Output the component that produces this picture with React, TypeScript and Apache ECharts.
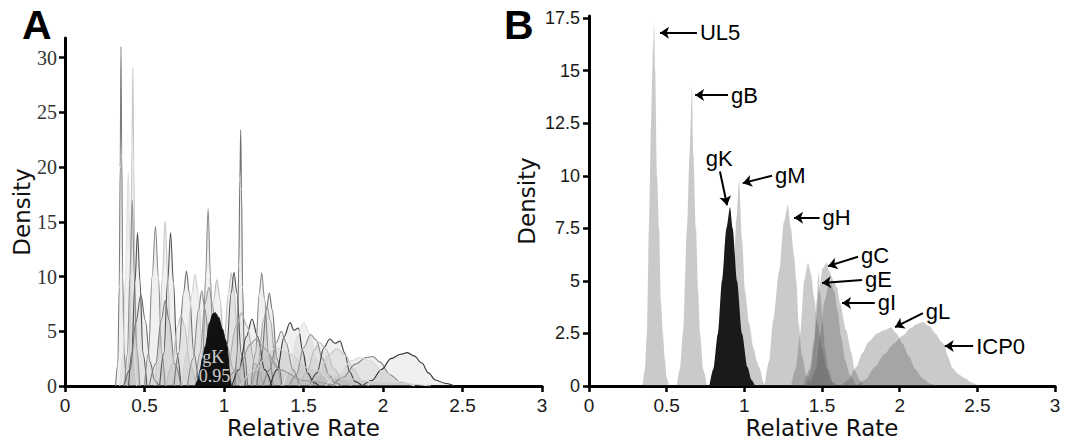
import React, { useEffect, useRef } from "react";
import * as echarts from "echarts";

type Pt = [number, number];

// ---------- shared ticks ----------
const xTicks = [0, 0.5, 1, 1.5, 2, 2.5, 3];
const aYTicks = [0, 5, 10, 15, 20, 25, 30];
const bYTicks = [0, 2.5, 5, 7.5, 10, 12.5, 15, 17.5];

// ---------- panel A: posterior densities of relative rates ----------
const aCurves: Pt[][] = [
  [[0.318,0],[0.332,2],[0.341,9],[0.347,20],[0.352,31],[0.357,21],[0.363,10],[0.372,3],[0.385,0.6],[0.4,0]],
  [[0.39,0],[0.403,2.5],[0.413,10],[0.421,22],[0.427,29.1],[0.433,20],[0.441,9],[0.452,2.5],[0.47,0]],
  [[0.345,0],[0.365,3],[0.38,10],[0.398,19.5],[0.41,12],[0.425,4],[0.45,0]],
  [[0.375,0],[0.393,3],[0.408,10],[0.423,17],[0.436,10],[0.45,3.5],[0.47,0]],
  [[0.4,0],[0.42,3],[0.44,9.5],[0.456,14],[0.472,9.5],[0.49,3],[0.515,0]],
  [[0.37,0],[0.41,1.5],[0.445,5.8],[0.477,8.3],[0.505,6],[0.535,2.2],[0.565,0.5],[0.59,0]],
  [[0.5,0],[0.525,3],[0.548,10],[0.569,14.6],[0.587,10],[0.608,3],[0.63,0]],
  [[0.565,0],[0.59,3],[0.612,10],[0.63,15.1],[0.647,10],[0.665,3.5],[0.69,0]],
  [[0.595,0],[0.622,3],[0.645,9.5],[0.664,14],[0.682,9.5],[0.703,3],[0.73,0]],
  [[0.53,0],[0.57,2],[0.605,6],[0.63,7.8],[0.655,6],[0.69,2],[0.73,0]],
  [[0.685,0],[0.715,3],[0.745,8.5],[0.764,10.5],[0.782,8.5],[0.81,3],[0.84,0]],
  [[0.735,0],[0.765,3],[0.798,8.5],[0.818,10.2],[0.838,8.5],[0.865,3],[0.895,0]],
  [[0.85,0],[0.868,3],[0.884,10],[0.9,16.2],[0.915,10],[0.93,3],[0.95,0]],
  [[0.82,0],[0.85,3],[0.88,7.5],[0.905,9],[0.927,7.5],[0.955,3],[0.985,0]],
  [[0.87,0],[0.9,3],[0.935,8],[0.955,9.7],[0.975,8],[1.0,3],[1.03,0]],
  [[0.965,0],[0.995,3],[1.028,8.5],[1.046,10.35],[1.064,8.5],[1.09,3],[1.12,0]],
  [[0.985,0],[1.015,3],[1.045,8.5],[1.063,10.4],[1.081,8.5],[1.108,3],[1.135,0]],
  [[1.068,0],[1.083,3],[1.093,11],[1.1,19],[1.105,23.4],[1.11,18],[1.117,9],[1.128,3],[1.148,0]],
  [[1.05,0],[1.095,1.5],[1.14,4.5],[1.176,6.1],[1.212,4.5],[1.255,1.5],[1.3,0]],
  [[1.17,0],[1.198,3],[1.222,8.5],[1.237,10.35],[1.255,8],[1.28,3],[1.31,0]],
  [[1.205,0],[1.235,2.5],[1.267,7],[1.285,8.5],[1.303,7],[1.333,2.5],[1.365,0]],
  [[1.175,0],[1.215,2],[1.248,6],[1.27,7.3],[1.292,6],[1.325,2],[1.36,0]],
  [[1.29,0],[1.335,1.5],[1.378,4.5],[1.415,5.8],[1.44,5.1],[1.468,5.3],[1.495,3.2],[1.525,1.2],[1.565,0.3],[1.6,0]],
  [[1.37,0],[1.415,1.5],[1.46,4.5],[1.5,5.8],[1.54,4.8],[1.58,2.6],[1.625,1],[1.67,0.3],[1.72,0]],
  [[1.41,0],[1.455,1],[1.5,3.5],[1.545,4.7],[1.58,4.2],[1.62,2.5],[1.66,1],[1.7,0.3],[1.74,0]],
  [[1.54,0],[1.585,1.2],[1.628,3.5],[1.665,4.3],[1.698,3.9],[1.73,4.1],[1.76,3],[1.79,1.3],[1.825,0.4],[1.87,0]],
  [[1.54,0],[1.595,1],[1.655,2.8],[1.71,3.4],[1.765,2.8],[1.815,1.5],[1.865,0.5],[1.91,0]],
  [[1.68,0],[1.75,0.8],[1.825,2.0],[1.895,2.6],[1.936,2.7],[1.98,2.2],[2.045,1.0],[2.115,0.3],[2.2,0]],
  [[1.87,0],[1.93,0.5],[1.99,1.5],[2.05,2.5],[2.11,2.9],[2.153,3.05],[2.195,2.75],[2.245,2.1],[2.285,1.2],[2.33,0.55],[2.39,0.25],[2.45,0]],
  [[0.97,0],[1.025,2],[1.077,5.5],[1.11,6.7],[1.143,5.5],[1.195,2],[1.25,0]],
  [[1.245,0],[1.288,1.5],[1.33,4],[1.36,5],[1.39,4],[1.432,1.5],[1.475,0]],
  [[0.845,0],[0.9,1.5],[0.948,4],[0.98,5],[1.012,4],[1.06,1.5],[1.115,0]],
  [[0.635,0],[0.675,2],[0.708,5.5],[0.73,6.5],[0.752,5.5],[0.785,2],[0.825,0]],
  [[0.99,0],[1.09,1.5],[1.165,3.8],[1.2,4.3],[1.25,3.5],[1.35,1.5],[1.5,0.5],[1.7,0]],
  [[1.1,0],[1.2,1.5],[1.28,3],[1.33,3.5],[1.4,3],[1.55,1.5],[1.75,0.7],[2.0,0.3],[2.3,0]],
  [[1.64,0],[1.72,1],[1.8,2.3],[1.85,2.6],[1.92,2.3],[2.0,1.3],[2.1,0.4],[2.2,0]],
  [[0.77,0],[0.805,2.5],[0.84,7],[0.86,8.7],[0.88,7],[0.915,2.5],[0.95,0]],
  [[1.47,0],[1.52,1.2],[1.57,3.3],[1.6,4.0],[1.64,3.4],[1.69,1.6],[1.75,0.5],[1.8,0]],
];
const aStroke: string[] = [
  "#7c7c7c","#c8c8c8","#dedede","#909090","#505050","#6a6a6a","#8a8a8a","#c8c8c8",
  "#505050","#7a7a7a","#707070","#d0d0d0","#8a8a8a","#9a9a9a","#b8b8b8","#c0c0c0",
  "#555555","#707070","#333333","#8a8a8a","#707070","#a0a0a0","#333333","#e0e0e0",
  "#8a8a8a","#444444","#c8c8c8","#808080","#333333","#aaaaaa","#888888","#aaaaaa",
  "#c0c0c0","#999999","#d0d0d0","#d8d8d8","#888888","#bbbbbb",
];
const gkA: Pt[] = [[0.82,0],[0.835,0.5],[0.85,1.46],[0.865,2.5],[0.882,3.6],[0.91,5.8],[0.93,6.6],[0.945,6.7],[0.965,6.3],[0.99,5.2],[1.01,4.2],[1.02,3.6],[1.028,2.5],[1.033,1.46],[1.04,0.5],[1.045,0]];
const gkALabels = [
  { name: "gK", value: [0.933, 2.65] as Pt },
  { name: "0.95", value: [0.94, 0.9] as Pt },
];

// ---------- panel B: selected genes ----------
const bUL5: Pt[] = [[0.345,0],[0.36,0.8],[0.373,2.5],[0.386,7.5],[0.4,12.5],[0.412,16],[0.419,17.26],[0.426,15],[0.438,10],[0.451,7.5],[0.463,4],[0.476,2.5],[0.488,1.3],[0.5,0.4],[0.515,0]];
const bGB: Pt[] = [[0.565,0],[0.585,0.8],[0.605,2.5],[0.631,7.5],[0.648,11],[0.663,14.2],[0.672,11],[0.689,7.5],[0.703,4.5],[0.715,2.5],[0.735,0.8],[0.76,0]];
const bGM: Pt[] = [[0.85,0],[0.89,1.5],[0.925,4.5],[0.95,8],[0.966,9.8],[0.985,7],[1.005,4.5],[1.03,3],[1.06,1.8],[1.08,1.2],[1.095,0.9],[1.105,0.7],[1.12,0.2],[1.135,0]];
const bGH: Pt[] = [[1.13,0],[1.16,1.2],[1.185,3.1],[1.225,5.5],[1.255,7.8],[1.28,8.6],[1.3,7.5],[1.32,6.2],[1.335,5],[1.35,3],[1.37,1.5],[1.4,0.5],[1.43,0]];
const bGD: Pt[] = [[1.3,0],[1.33,0.8],[1.36,2.5],[1.385,5],[1.41,5.85],[1.43,5.3],[1.45,4.2],[1.47,3],[1.5,1.8],[1.53,0.8],[1.56,0.2],[1.58,0]];
const bGE: Pt[] = [[1.4,0],[1.43,0.8],[1.45,2],[1.465,4],[1.478,5.4],[1.49,4.3],[1.505,3],[1.52,1.8],[1.54,0.8],[1.57,0.2],[1.6,0]];
const bGC: Pt[] = [[1.38,0],[1.42,0.8],[1.45,2.2],[1.48,4.5],[1.505,5.6],[1.53,5.85],[1.55,5.4],[1.575,5.0],[1.597,4.7],[1.616,3.95],[1.655,2.66],[1.69,1.57],[1.71,0.76],[1.74,0.3],[1.77,0]];
const bGI: Pt[] = [[1.42,0],[1.46,0.8],[1.49,2.5],[1.515,4.0],[1.54,4.7],[1.56,4.85],[1.58,4.5],[1.6,3.6],[1.625,2.3],[1.65,1.2],[1.68,0.5],[1.72,0]];
const bGL: Pt[] = [[1.62,0],[1.67,0.3],[1.72,0.9],[1.76,1.57],[1.8,2.1],[1.855,2.5],[1.9,2.65],[1.945,2.78],[1.98,2.5],[2.02,2.0],[2.06,1.4],[2.1,0.8],[2.15,0.35],[2.2,0.1],[2.25,0]];
const bICP0: Pt[] = [[1.72,0],[1.78,0.3],[1.84,0.9],[1.9,1.5],[1.96,2.0],[2.02,2.4],[2.07,2.75],[2.11,2.95],[2.15,3.05],[2.19,2.85],[2.23,2.5],[2.27,2.1],[2.29,1.9],[2.31,1.4],[2.34,0.85],[2.38,0.55],[2.42,0.38],[2.46,0.18],[2.5,0.05],[2.53,0]];
const bGK: Pt[] = [[0.775,0],[0.8,0.8],[0.83,2.5],[0.856,5],[0.885,7.5],[0.908,8.5],[0.925,7.5],[0.953,5],[0.985,2.5],[1.02,0.9],[1.045,0.3],[1.07,0]];
const bGray: Pt[][] = [bUL5, bGB, bGM, bGH, bGD, bGE, bGC, bGI, bGL, bICP0];

// annotations: label, arrow start (label side), arrow tip
const bArrowLabels = ["UL5", "gB", "gK", "gM", "gH", "gC", "gE", "gI", "gL", "ICP0"];
const bArrowFrom: Pt[] = [[0.695,16.8],[0.895,13.84],[0.843,10.2],[1.178,10.0],[1.484,8.0],[1.732,6.15],[1.758,5.04],[1.84,3.95],[2.15,3.47],[2.473,1.9]];
const bArrowTo: Pt[] = [[0.457,16.8],[0.683,13.84],[0.889,8.6],[0.99,9.65],[1.32,8.0],[1.539,5.7],[1.5,4.9],[1.629,3.95],[1.97,2.8],[2.29,1.9]];

export default function App() {
  const ref = useRef<HTMLDivElement>(null);
  useEffect(() => {
    document.body.style.margin = "0";
    const chart = echarts.init(ref.current!, null, { renderer: "svg" });
    const sans = "'Liberation Sans', Arial, Helvetica, sans-serif";
    const nameFont = "'DejaVu Sans', 'Liberation Sans', sans-serif";
    const serif = "'Liberation Serif', 'Times New Roman', serif";
    const axisLine = { show: true, onZero: false, lineStyle: { color: "#000", width: 3 } };
    const tick = (vals: number[]) => ({
      show: true, inside: false, length: 6, customValues: vals,
      lineStyle: { color: "#000", width: 2.5 },
    });
    const xAxisBase = (gi: number) => ({
      type: "value", gridIndex: gi, min: 0, max: 3, interval: 0.5,
      axisLine, axisTick: tick(xTicks), splitLine: { show: false },
      axisLabel: { customValues: xTicks, fontFamily: sans, fontSize: 19, color: "#1a1a1a", margin: 10, formatter: (v: number) => String(v) },
      name: "Relative Rate", nameLocation: "middle", nameGap: 30, nameMoveOverlap: false,
      nameTextStyle: { fontFamily: nameFont, fontSize: 23, color: "#111", verticalAlign: "top", padding: 0 },
    });

    const series: any[] = [];
    aCurves.forEach((c, i) => {
      series.push({
        type: "line", xAxisIndex: 0, yAxisIndex: 0, data: c, symbol: "none", showSymbol: false,
        smooth: 0.35, smoothMonotone: "x", silent: true, z: 2,
        lineStyle: { color: aStroke[i % aStroke.length], width: 1.1 },
        areaStyle: { color: "rgba(150,150,150,0.2)" },
      });
    });
    series.push({
      type: "line", xAxisIndex: 0, yAxisIndex: 0, data: gkA, symbol: "none", smooth: 0.3, smoothMonotone: "x",
      silent: true, z: 3, lineStyle: { color: "#111", width: 1 }, areaStyle: { color: "#111", opacity: 1 },
    });
    series.push({
      type: "scatter", xAxisIndex: 0, yAxisIndex: 0, data: gkALabels, symbolSize: 0, silent: true, z: 4,
      label: { show: true, position: "inside", formatter: "{b}", fontFamily: serif, fontSize: 18, color: "#fff" },
    });

    bGray.forEach((c) => {
      series.push({
        type: "line", xAxisIndex: 1, yAxisIndex: 1, data: c, symbol: "none", smooth: 0.25, smoothMonotone: "x",
        silent: true, z: 2, lineStyle: { width: 0, opacity: 0 },
        areaStyle: { color: "rgba(80,80,80,0.43)" },
      });
    });
    series.push({
      type: "line", xAxisIndex: 1, yAxisIndex: 1, data: bGK, symbol: "none", smooth: 0.25, smoothMonotone: "x",
      silent: true, z: 3, lineStyle: { width: 0, opacity: 0 }, areaStyle: { color: "#1a1a1a", opacity: 1 },
    });
    series.push({
      type: "line", xAxisIndex: 1, yAxisIndex: 1, data: bArrowTo, symbol: "none", silent: true, z: 10,
      lineStyle: { width: 0, opacity: 0 },
      markLine: {
        silent: true, symbol: ["none", "arrow"], symbolSize: 9, precision: 4,
        lineStyle: { color: "#000", width: 2, type: "solid" },
        label: { show: true, position: "start", formatter: "{b}", fontFamily: sans, fontSize: 22, lineHeight: 20, color: "#000", distance: 3 },
        emphasis: { disabled: true },
        data: bArrowLabels.map((n, i) => [
          { name: n, coord: bArrowFrom[i] },
          { coord: bArrowTo[i] },
        ]),
      },
    });

    chart.setOption({
      animation: false,
      backgroundColor: "#fff",
      grid: [
        { left: 65, top: 38, right: 531, bottom: 55, containLabel: false, outerBoundsMode: "none" },
        { left: 589, top: 16, right: 18, bottom: 55, containLabel: false, outerBoundsMode: "none" },
      ],
      xAxis: [xAxisBase(0), xAxisBase(1)],
      yAxis: [
        {
          type: "value", gridIndex: 0, min: 0, max: 31.8, axisLine, axisTick: tick(aYTicks),
          splitLine: { show: false },
          axisLabel: { customValues: aYTicks, fontFamily: serif, fontSize: 20, color: "#333", margin: 8 },
          name: "Density", nameLocation: "middle", nameGap: 32,
          nameTextStyle: { fontFamily: nameFont, fontSize: 23, color: "#111" },
        },
        {
          type: "value", gridIndex: 1, min: 0, max: 17.6, axisLine, axisTick: tick(bYTicks),
          splitLine: { show: false },
          axisLabel: { customValues: bYTicks, fontFamily: sans, fontSize: 18, color: "#1a1a1a", margin: 9, formatter: (v: number) => String(v) },
          name: "Density", nameLocation: "middle", nameGap: 51,
          nameTextStyle: { fontFamily: nameFont, fontSize: 23, color: "#111" },
        },
      ],
      graphic: [
        { type: "text", left: 22, top: 4, style: { text: "A", fontFamily: sans, fontWeight: "bold", fontSize: 41, lineHeight: 32, fill: "#000" } },
        { type: "text", left: 504, top: 4, style: { text: "B", fontFamily: sans, fontWeight: "bold", fontSize: 41, lineHeight: 32, fill: "#000" } },
      ],
      series,
    });
    return () => chart.dispose();
  }, []);
  return <div ref={ref} style={{ width: 1073, height: 441 }} />;
}
